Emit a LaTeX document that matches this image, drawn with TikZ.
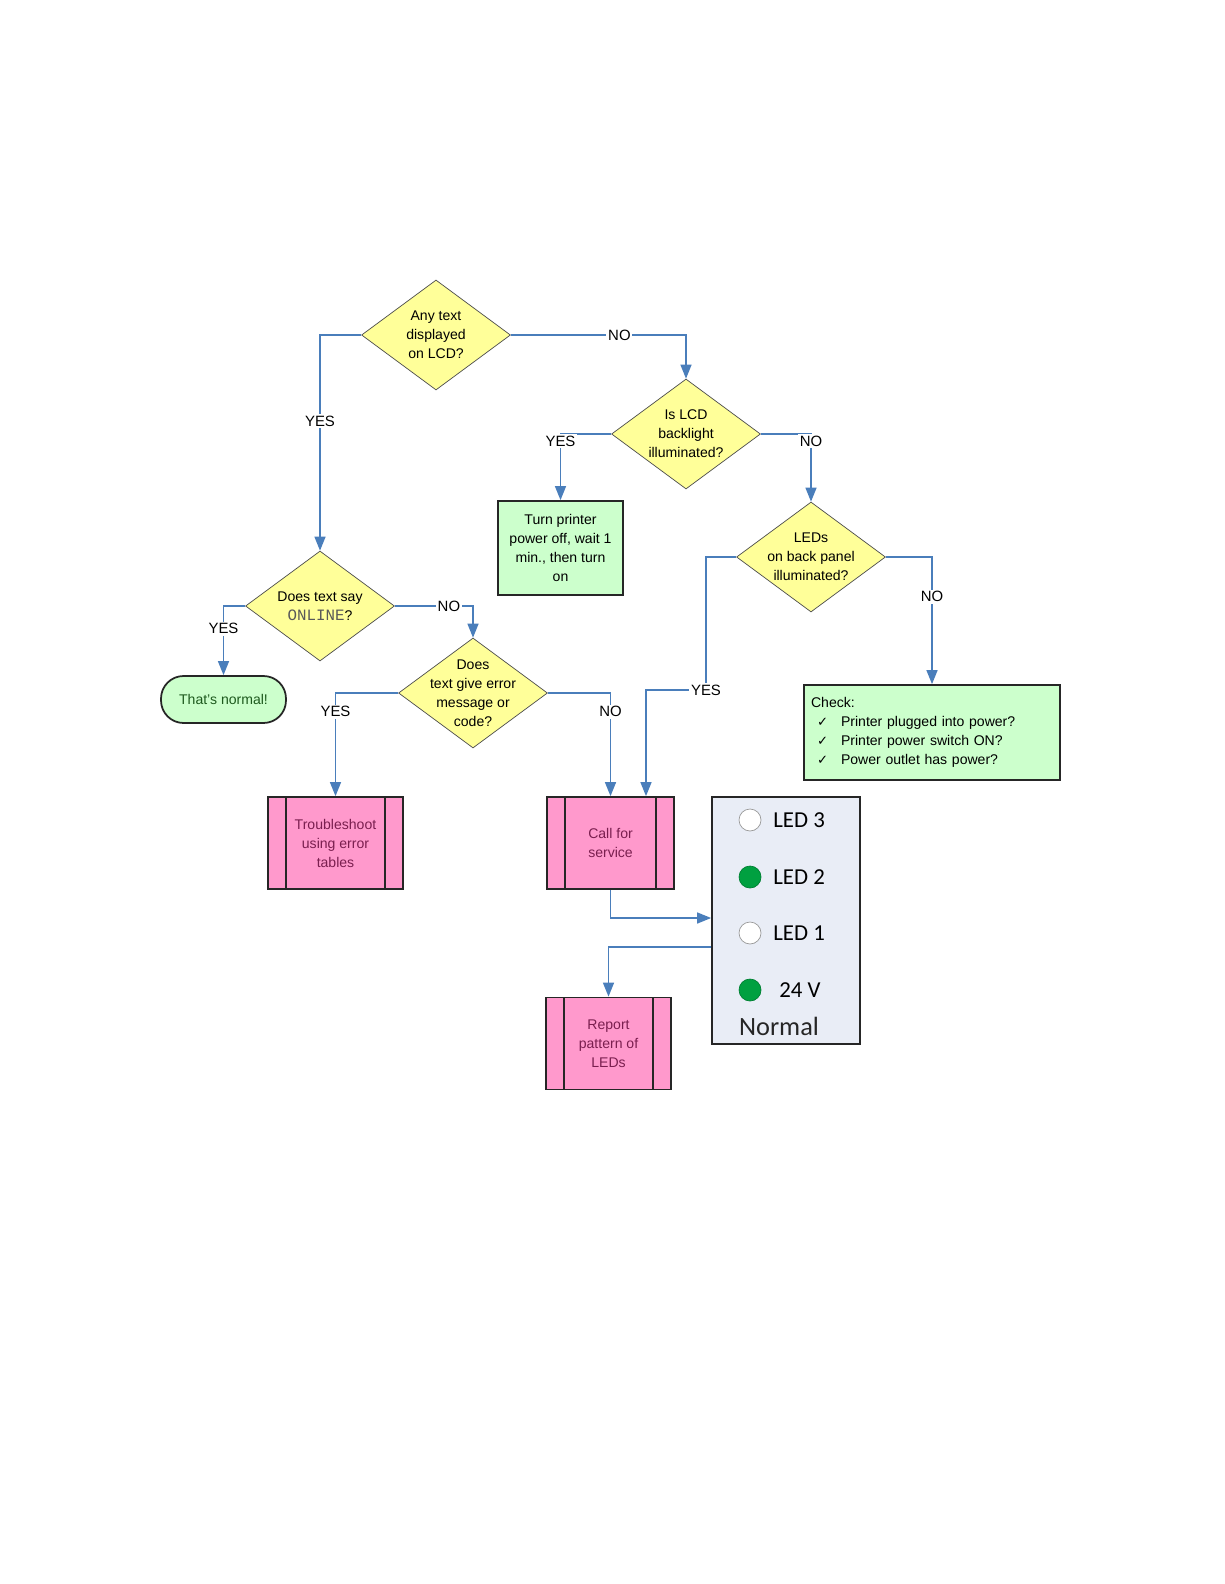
\documentclass[tikz,border=0pt]{standalone}
\usepackage{fontspec}
\setmainfont{Liberation Sans}
\setmonofont{Liberation Mono}
\newfontfamily\ledfont{Carlito}
\newfontfamily\symfont{DejaVu Sans}
\usetikzlibrary{shapes.geometric,arrows.meta}
\definecolor{flowblue}{HTML}{4A7EBB}
\definecolor{decyellow}{HTML}{FFFF99}
\definecolor{okgreen}{HTML}{CCFFCC}
\definecolor{normink}{HTML}{1E5A1E}
\definecolor{procpink}{HTML}{FF99CC}
\definecolor{procink}{HTML}{7A1F4F}
\definecolor{panelgray}{HTML}{E9EDF6}
\definecolor{ledon}{HTML}{00A040}
\newcommand{\chk}{{\symfont\fontsize{7.5}{10.8}\selectfont ✓}}
\newcommand{\chkline}[1]{\hspace*{0.12cm}\makebox[0.48cm][l]{\chk}#1}
\begin{document}
\begin{tikzpicture}[x=0.02cm, y=-0.02cm,
    txt/.style={font=\fontsize{8}{10.8}\selectfont, align=center},
    decision/.style={diamond, draw=gray!60!black, fill=decyellow, inner sep=0pt,
      minimum width=2.98cm, minimum height=2.2cm},
    okbox/.style={rectangle, draw=black!85, line width=1pt, fill=okgreen, txt, inner sep=0pt},
    procbox/.style={rectangle, draw=black!85, line width=1pt, fill=procpink, text=procink, txt,
      inner sep=0pt, minimum height=1.84cm,
      path picture={\draw[black!85, line width=1.6pt]
        ([xshift=0.36cm]path picture bounding box.north west) -- ([xshift=0.36cm]path picture bounding box.south west)
        ([xshift=-0.36cm]path picture bounding box.north east) -- ([xshift=-0.36cm]path picture bounding box.south east);}},
    flow/.style={draw=flowblue, line width=0.8pt, -{Triangle[length=0.28cm, width=0.22cm]}},
    lbl/.style={font=\fontsize{8.5}{10}\selectfont, fill=white, inner sep=1pt},
    led/.style={circle, minimum size=0.44cm, inner sep=0pt},
    ledlbl/.style={font=\ledfont\fontsize{13}{15}\selectfont, inner sep=0pt, anchor=west}]
  \useasboundingbox (0,0) rectangle (1224,1584);
  \node[decision, label={[txt]center:Any text\\displayed\\on LCD?}] (lcdtext) at (436,335) {};
  \node[decision, label={[txt]center:Is LCD\\backlight\\illuminated?}] (backlit) at (686,434) {};
  \node[decision, label={[txt]center:LEDs\\on back panel\\illuminated?}] (ledslit) at (811,557) {};
  \node[decision, label={[txt]center:Does text say\\{\fontsize{9}{10.8}\selectfont\ttfamily\color{black!65}ONLINE}?}] (online) at (320,606) {};
  \node[decision, label={[txt]center:Does\\text give error\\message or\\code?}] (errcode) at (473,693) {};
  \node[okbox, minimum width=2.5cm, minimum height=1.88cm] (cycle) at (560.5,548) {Turn printer\\power off, wait 1\\min., then turn\\on};
  \node[okbox, text=normink, rounded corners=0.45cm, minimum width=2.5cm, minimum height=0.94cm] (normal) at (223.5,699.5) {That's normal!};
  \node[okbox, align=left, text width=4.84cm, inner xsep=0.14cm, minimum height=1.9cm] (check) at (932,732.5)
    {Check:\\\chkline{Printer plugged into power?}\\\chkline{Printer power switch ON?}\\\chkline{Power outlet has power?}};
  \node[procbox, minimum width=2.7cm] (trouble) at (335.5,843) {Troubleshoot\\using error\\tables};
  \node[procbox, minimum width=2.54cm] (service) at (610.5,843) {Call for\\service};
  \node[procbox, minimum width=2.5cm] (report) at (608.5,1043.5) {Report\\pattern of\\LEDs};
  \node[rectangle, draw=black!85, line width=1pt, fill=panelgray, minimum width=2.96cm, minimum height=4.94cm] (ledpanel) at (786,920.5) {};
  \node[led, draw=gray!80, fill=white] (ledthree) at (750,820) {};
  \node[led, draw=ledon!80!black, fill=ledon] (ledtwo) at (750,877) {};
  \node[led, draw=gray!80, fill=white] (ledone) at (750,933) {};
  \node[led, draw=ledon!80!black, fill=ledon] (ledpwr) at (750,990) {};
  \node[ledlbl] (ledthreet) at (773,820) {LED 3};
  \node[ledlbl] (ledtwot) at (773,877) {LED 2};
  \node[ledlbl] (ledonet) at (773,933) {LED 1};
  \node[ledlbl] (ledpwrt) at (779,990) {24 V};
  \node[font=\ledfont\fontsize{15}{17}\selectfont, text=black!85, inner sep=0pt] (ledstate) at (779,1026) {Normal};
  \coordinate (yesbend) at (706,690);
  \draw[flow] (lcdtext.west) -| node[lbl, pos=0.7] {YES} (online.north);
  \draw[flow] (lcdtext.east) -| node[lbl, pos=0.31] {NO} (backlit.north);
  \draw[flow] (backlit.west) -| node[lbl, pos=0.5, yshift=-0.14cm] {YES} (cycle.north);
  \draw[flow] (backlit.east) -| node[lbl, pos=0.5, yshift=-0.14cm] {NO} (ledslit.north);
  \draw[flow] (ledslit.west) -| (yesbend) node[lbl] {YES} -| ([xshift=0.71cm]service.north);
  \draw[flow] (ledslit.east) -| node[lbl, pos=0.656] {NO} (check.north);
  \draw[flow] (online.west) -| node[lbl, pos=0.665] {YES} (normal.north);
  \draw[flow] (online.east) -| node[lbl, pos=0.346] {NO} (errcode.north);
  \draw[flow] (errcode.west) -| node[lbl, pos=0.59] {YES} (trouble.north);
  \draw[flow] (errcode.east) -| node[lbl, pos=0.59] {NO} (service.north);
  \draw[flow] (service.south) |- ([yshift=0.05cm]ledpanel.west);
  \draw[flow] ([yshift=-0.53cm]ledpanel.west) -| (report.north);
\end{tikzpicture}
\end{document}
